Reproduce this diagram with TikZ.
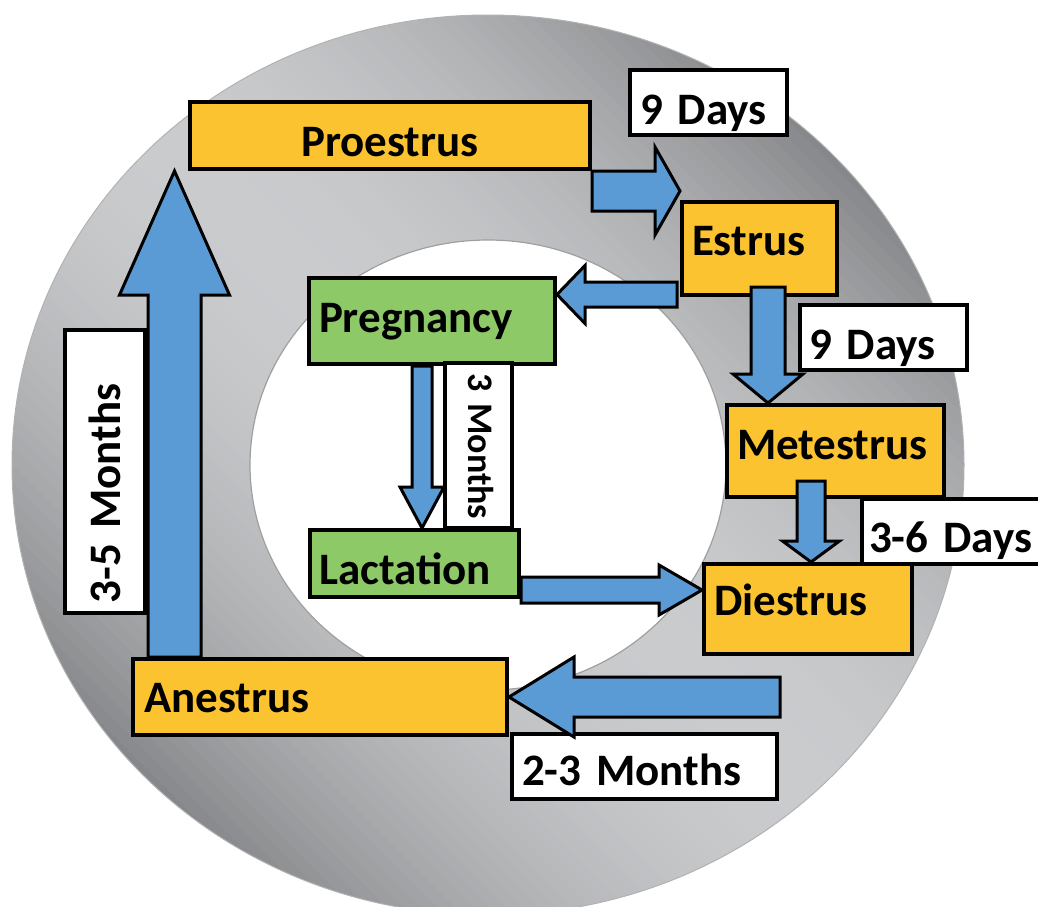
\documentclass[tikz,border=0pt]{standalone}
\usepackage{fontspec}
\setmainfont{Carlito}
\usetikzlibrary{calc}
\definecolor{gold}{HTML}{FCC331}
\definecolor{leaf}{HTML}{8DC966}
\definecolor{ablue}{HTML}{5B9BD5}
\definecolor{ringdark}{HTML}{838588}
\definecolor{ringlight}{HTML}{C9CBCD}
\tikzset{
  bx/.style={draw=black, line width=4pt, inner ysep=0pt, anchor=north west,
    font=\bfseries\fontsize{45}{54}\selectfont, align=left},
  goldbox/.style={bx, fill=gold},
  leafbox/.style={bx, fill=leaf},
  whitebox/.style={bx, fill=white},
  barrowstyle/.style={draw=black, fill=ablue, line width=3pt, line join=miter},
}
\newcommand\blockarrow[5]{%
  \coordinate (ba-hb) at ($(#2)!#5pt!(#1)$);
  \draw[barrowstyle] ($(#1)!#3pt!90:(#2)$) -- ($(ba-hb)!#3pt!90:(#2)$)
    -- ($(ba-hb)!#4pt!90:(#2)$) -- (#2) -- ($(ba-hb)!#4pt!-90:(#2)$)
    -- ($(ba-hb)!#3pt!-90:(#2)$) -- ($(#1)!#3pt!-90:(#2)$) -- cycle;}
\begin{document}
\begin{tikzpicture}[x=1pt,y=-1pt]
\useasboundingbox (0,0) rectangle (1038,906);
% ring with a diagonal metallic gradient
\begin{scope}
  \clip (488,465) ellipse [x radius=476pt, y radius=450pt];
  \begin{scope}[shift={(488,465)}, rotate=45]
    \foreach \k in {0,...,79}{
      \pgfmathsetmacro\gx{-480+12*\k}
      \pgfmathsetmacro\gt{(\gx+6)/470}
      \pgfmathsetmacro\gp{max(0,min(100,100*(1-\gt*\gt)))}
      \fill[ringlight!\gp!ringdark] (\gx,-700) rectangle ({\gx+12.8},700);
    }
  \end{scope}
\end{scope}
\draw[gray!60, line width=1pt] (488,465) ellipse [x radius=476pt, y radius=450pt];
\fill[white, draw=gray!75, line width=1.2pt] (488,465) ellipse [x radius=238pt, y radius=225pt];
% boxes
\node[goldbox, minimum width=400, minimum height=67, text width=380, inner xsep=10,
  text height=54, text depth=13, align=center] (pro) at (188,100) {Proestrus};
\node[goldbox, minimum width=155, minimum height=93, text width=135, inner xsep=10,
  text height=53, text depth=40] (est) at (680,200) {Estrus};
\node[leafbox, minimum width=246, minimum height=86, text width=226, inner xsep=10,
  text height=54, text depth=32] (preg) at (307,276) {Pregnancy};
\node[leafbox, minimum width=209, minimum height=67, text width=191, inner xsep=9,
  text height=54, text depth=13] (lac) at (308,528) {Lactation};
\node[goldbox, minimum width=217, minimum height=92, text width=197, inner xsep=10,
  text height=54, text depth=38] (met) at (725,403) {Metestrus};
\node[goldbox, minimum width=208, minimum height=90, text width=188, inner xsep=10,
  text height=51, text depth=39] (die) at (702,562) {Diestrus};
\node[goldbox, minimum width=374, minimum height=76, text width=352, inner xsep=11,
  text height=53, text depth=23] (an) at (131,657) {Anestrus};
\node[whitebox, minimum width=157, minimum height=65, text width=137, inner xsep=10,
  text height=54, text depth=11] (d9a) at (628,68) {\mbox{9 Days}};
\node[whitebox, minimum width=167, minimum height=65, text width=149, inner xsep=9,
  text height=54, text depth=11] (d9b) at (798,303) {\mbox{9 Days}};
\node[whitebox, minimum width=178, minimum height=65, text width=164, inner xsep=7,
  text height=53, text depth=12] (d36) at (860,497) {\mbox{3-6 Days}};
\node[whitebox, minimum width=265, minimum height=65, text width=245, inner xsep=10,
  text height=51, text depth=14] (m23) at (510,732) {\mbox{2-3 Months}};
\node[whitebox, anchor=center, rotate=90, minimum width=283, minimum height=80,
  text width=263, inner xsep=10, text height=55, text depth=25] (m35) at (105,471.5) {\mbox{3-5 Months}};
\node[whitebox, anchor=center, rotate=-90, minimum width=165, minimum height=67,
  text width=145, inner xsep=10, text height=44, text depth=23,
  font=\bfseries\fontsize{36}{43}\selectfont] (m3) at (478.5,445.5) {\mbox{3 Months}};
% arrows
\coordinate (a1s) at ($(pro.south east)+(0,20)$);
\coordinate (a1t) at (est.west |- a1s);
\blockarrow{a1s}{a1t}{20}{44}{25}
\coordinate (a2s) at ($(est.west)+(-3,46)$);
\coordinate (a2t) at (preg.east |- a2s);
\blockarrow{a2s}{a2t}{12.5}{29}{28}
\coordinate (a3s) at ($(est.south)+(8.5,-10)$);
\coordinate (a3t) at (a3s |- met.north);
\blockarrow{a3s}{a3t}{17}{35}{29}
\coordinate (a4s) at ($(preg.south)+(-10,0)$);
\coordinate (a4t) at (a4s |- lac.north);
\blockarrow{a4s}{a4t}{10}{22}{41}
\coordinate (a5s) at ($(lac.east)+(0,26.5)$);
\coordinate (a5t) at (die.west |- a5s);
\blockarrow{a5s}{a5t}{13}{25}{43}
\coordinate (a6s) at ($(met.south)+(-24.5,-18)$);
\coordinate (a6t) at (a6s |- die.north);
\blockarrow{a6s}{a6t}{14}{28.5}{21}
\coordinate (a7s) at ($(die.south west)+(78,41)$);
\coordinate (a7t) at (an.east |- a7s);
\blockarrow{a7s}{a7t}{20}{40}{65}
\coordinate (a8s) at ($(an.north west)+(43.5,0)$);
\coordinate (a8t) at (a8s |- pro.south);
\blockarrow{a8s}{a8t}{26.5}{55}{124}
\end{tikzpicture}
\end{document}
